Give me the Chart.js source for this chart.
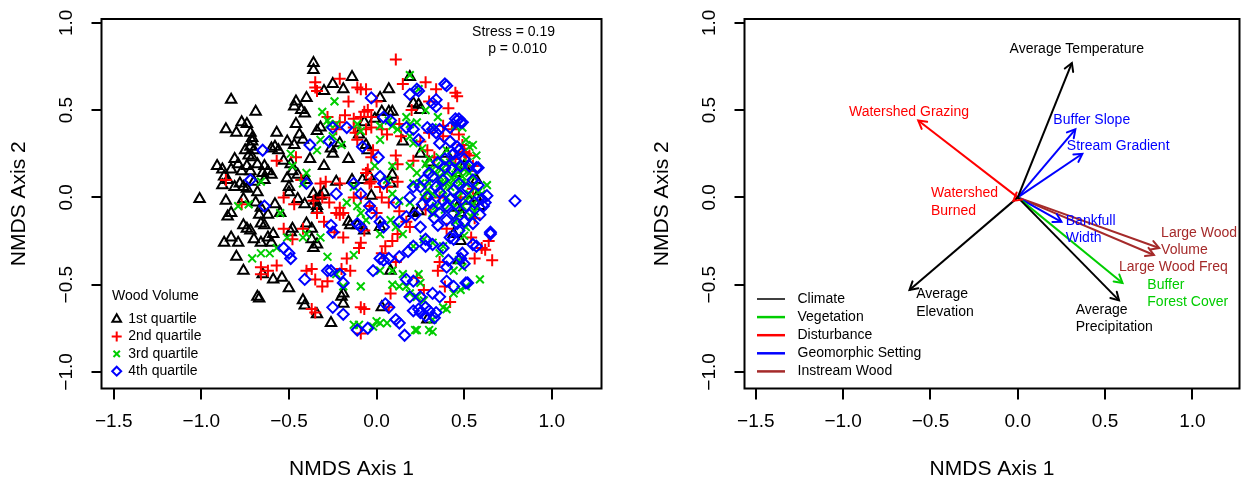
<!DOCTYPE html>
<html><head><meta charset="utf-8">
<script src="https://cdn.jsdelivr.net/npm/chart.js@4.4.1/dist/chart.umd.min.js"></script>
<style>
html,body{margin:0;padding:0;background:#fff;}
#wrap{position:relative;width:1243px;height:482px;overflow:hidden;background:#fff;}
#c1{position:absolute;left:0;top:0;}
#c2{position:absolute;left:620px;top:0;}
</style></head><body>
<div id="wrap"><canvas id="c1" width="620" height="482"></canvas><canvas id="c2" width="623" height="482"></canvas></div>
<script>
// ---------------- DATA ----------------
const xTicks = [-1.5, -1.0, -0.5, 0.0, 0.5, 1.0];
const yTicks = [-1.0, -0.5, 0.0, 0.5, 1.0];
const axisTitleX = 'NMDS Axis 1';
const axisTitleY = 'NMDS Axis 2';

const legendTitle = 'Wood Volume';
const seriesNames = ['1st quartile', '2nd quartile', '3rd quartile', '4th quartile'];
const statLines = ['Stress = 0.19', 'p = 0.010'];

// 1st quartile (black triangles)
const q1 = [[-0.36,0.77],[-0.36,0.73],[-0.14,0.69],[0.19,0.69],[-0.25,0.65],[-0.19,0.62],[-0.30,0.61],[-0.40,0.57],[-0.46,0.55],[-0.47,0.52],[-0.43,0.50],[-0.41,0.48],[-0.83,0.56],[-0.69,0.49],[0.07,0.62],[0.02,0.57],[0.24,0.53],[0.25,0.50],[0.21,0.54],[-0.77,0.43],[-0.74,0.42],[-0.72,0.37],[-0.71,0.34],[-0.86,0.39],[-0.80,0.37],[-0.46,0.42],[-0.32,0.40],[-0.34,0.38],[-0.07,0.43],[-0.01,0.45],[0.03,0.49],[0.07,0.49],[0.09,0.49],[-0.71,0.32],[-0.72,0.29],[-0.75,0.27],[-0.70,0.27],[-0.73,0.24],[-0.71,0.23],[-0.58,0.29],[-0.56,0.27],[-0.51,0.32],[-0.47,0.30],[-0.42,0.33],[-0.44,0.36],[-0.26,0.28],[-0.25,0.25],[-0.16,0.22],[-0.21,0.31],[-0.06,0.30],[-0.05,0.27],[0.15,0.32],[0.25,0.25],[-0.91,0.18],[-0.88,0.16],[-0.83,0.16],[-0.81,0.22],[-0.79,0.19],[-0.77,0.15],[-0.74,0.18],[-0.72,0.15],[-0.68,0.19],[-0.64,0.18],[-0.62,0.15],[-0.65,0.14],[-0.87,0.12],[-0.85,0.10],[-0.81,0.06],[-0.78,0.08],[-0.76,0.06],[-0.74,0.05],[-0.70,0.09],[-0.64,0.10],[-0.60,0.13],[-0.49,0.19],[-0.48,0.15],[-0.51,0.11],[-0.50,0.06],[-0.50,0.03],[-0.45,0.13],[-0.40,0.10],[-0.36,0.02],[-0.32,0.01],[-0.30,0.03],[-0.23,0.09],[-0.14,0.10],[-0.08,0.10],[-0.04,0.12],[0.08,0.08],[0.09,0.13],[-0.03,0.01],[0.57,0.10],[0.46,0.14],[-1.01,-0.01],[-0.86,-0.02],[-0.76,-0.01],[-0.69,-0.03],[-0.66,-0.06],[-0.58,-0.04],[-0.55,-0.09],[-0.83,-0.09],[-0.85,-0.11],[-0.45,-0.01],[-0.41,-0.04],[-0.35,-0.02],[-0.34,-0.05],[-0.34,-0.07],[-0.37,-0.18],[-0.40,-0.15],[-0.16,-0.14],[-0.15,-0.16],[-0.11,-0.16],[-0.07,-0.19],[0.02,-0.17],[0.21,-0.09],[0.24,-0.08],[0.44,-0.21],[0.57,0.00],[0.53,-0.02],[0.59,-0.05],[0.46,-0.06],[0.48,-0.09],[-0.76,-0.16],[-0.74,-0.18],[-0.72,-0.19],[-0.66,-0.15],[-0.64,-0.16],[-0.67,-0.10],[-0.62,-0.10],[-0.87,-0.26],[-0.83,-0.23],[-0.79,-0.26],[-0.70,-0.24],[-0.66,-0.26],[-0.62,-0.23],[-0.60,-0.26],[-0.59,-0.21],[-0.49,-0.20],[-0.48,-0.18],[-0.37,-0.24],[-0.34,-0.27],[-0.36,-0.29],[-0.80,-0.34],[-0.76,-0.42],[-0.65,-0.44],[-0.59,-0.47],[-0.54,-0.46],[-0.50,-0.52],[-0.68,-0.57],[-0.67,-0.58],[-0.42,-0.59],[-0.41,-0.62],[-0.34,-0.67],[-0.26,-0.72],[-0.20,-0.57],[-0.19,-0.55],[-0.19,-0.61],[0.03,-0.63],[0.08,-0.42],[0.29,-0.70],[0.47,-0.36],[0.48,-0.25],[-0.57,0.37],[-0.60,0.28],[-0.53,0.21],[-0.38,0.22],[-0.30,0.18],[-0.10,0.36],[0.30,0.20],[0.40,0.25],[0.50,0.18],[-0.88,0.07],[-0.68,0.03]];

// 2nd quartile (red plus)
const q2 = [[0.11,0.79],[-0.35,0.66],[-0.35,0.63],[-0.34,0.61],[-0.21,0.68],[-0.11,0.63],[-0.09,0.62],[-0.06,0.62],[0.15,0.65],[0.28,0.66],[0.34,0.62],[0.45,0.60],[0.46,0.58],[0.41,0.51],[-0.07,0.49],[-0.13,0.45],[-0.09,0.46],[-0.28,0.46],[-0.21,0.43],[-0.23,0.39],[-0.13,0.40],[-0.12,0.37],[-0.06,0.39],[-0.03,0.40],[0.03,0.39],[0.06,0.36],[0.13,0.42],[0.14,0.35],[0.11,0.24],[0.12,0.19],[0.25,0.32],[0.29,0.27],[0.38,0.41],[0.43,0.39],[0.47,0.36],[0.49,0.30],[0.53,0.24],[0.48,0.00],[0.38,0.35],[-0.57,0.21],[-0.46,0.23],[-0.32,0.08],[-0.21,0.08],[-0.13,0.00],[-0.09,0.00],[-0.06,0.14],[-0.04,0.08],[0.02,0.06],[0.06,0.06],[0.12,0.09],[-0.86,0.10],[-0.77,-0.04],[-0.53,0.00],[-0.47,-0.04],[-0.36,-0.02],[-0.34,-0.09],[-0.27,-0.03],[-0.21,-0.06],[-0.19,-0.09],[-0.23,-0.09],[-0.04,-0.05],[0.00,-0.09],[0.07,-0.03],[0.13,-0.08],[0.17,-0.14],[0.28,-0.01],[0.28,-0.07],[-0.53,-0.18],[-0.48,-0.24],[-0.42,-0.18],[-0.30,-0.14],[-0.24,-0.20],[-0.19,-0.23],[-0.10,-0.29],[-0.07,-0.19],[0.03,-0.32],[0.09,-0.25],[0.19,-0.17],[0.36,-0.37],[0.54,-0.23],[0.60,-0.29],[0.66,-0.36],[0.56,-0.35],[-0.66,-0.40],[-0.66,-0.44],[-0.62,-0.42],[-0.57,-0.39],[-0.40,-0.42],[-0.37,-0.41],[-0.35,-0.47],[-0.28,-0.48],[-0.31,-0.51],[-0.17,-0.35],[-0.15,-0.42],[-0.20,-0.41],[-0.09,-0.26],[0.08,-0.55],[0.23,-0.46],[0.27,-0.53],[0.35,-0.42],[0.39,-0.51],[0.42,-0.60],[-0.37,-0.64],[-0.35,-0.66],[-0.09,-0.63],[-0.07,-0.64],[0.07,-0.63],[-0.09,-0.78],[0.11,-0.37],[-0.02,0.27],[0.21,0.21],[-0.21,-0.10],[-0.29,0.09],[-0.43,0.10],[-0.31,0.00],[0.30,0.37],[0.36,0.00],[0.51,0.25],[0.55,0.18],[0.12,-0.21],[0.05,-0.28],[0.03,0.00],[-0.03,0.09],[-0.05,0.16],[-0.03,0.23],[-0.11,0.33],[-0.05,0.50],[-0.03,0.46],[0.45,0.22],[0.50,0.26],[0.41,0.20],[0.33,0.23],[0.55,0.05],[0.56,-0.12],[0.62,-0.30],[0.64,-0.25],[0.40,-0.18],[0.20,0.50],[0.30,0.55],[-0.16,0.55],[-0.18,0.47],[0.00,0.55]];

// 3rd quartile (green x)
const q3 = [[-0.24,0.55],[-0.31,0.49],[0.19,0.70],[0.24,0.62],[-0.28,0.44],[-0.27,0.42],[-0.23,0.42],[-0.32,0.33],[-0.34,0.27],[-0.25,0.35],[-0.11,0.42],[-0.09,0.38],[0.02,0.33],[0.02,0.41],[0.07,0.44],[0.09,0.41],[0.12,0.39],[0.19,0.42],[0.23,0.43],[0.19,0.35],[0.21,0.31],[0.32,0.40],[0.49,0.40],[0.51,0.33],[0.45,0.41],[0.28,0.19],[0.30,0.16],[0.34,0.18],[0.36,0.12],[0.40,0.14],[0.44,0.10],[0.46,0.18],[0.49,0.12],[0.51,0.08],[0.53,0.14],[0.56,0.06],[0.60,0.02],[0.63,0.07],[0.56,-0.08],[0.54,-0.11],[0.51,-0.17],[0.40,0.00],[0.38,0.04],[0.32,0.02],[0.34,-0.05],[0.32,-0.09],[0.25,0.08],[0.21,0.08],[0.19,0.18],[-0.49,0.25],[-0.48,0.18],[-0.40,0.14],[-0.42,0.08],[-0.66,0.09],[-0.79,-0.05],[-0.73,-0.04],[-0.55,-0.09],[-0.71,-0.35],[-0.66,-0.32],[-0.61,-0.32],[-0.57,-0.29],[-0.51,-0.23],[-0.42,-0.23],[-0.40,-0.21],[-0.32,-0.23],[-0.28,-0.34],[-0.23,-0.44],[-0.19,-0.51],[-0.09,-0.51],[-0.13,-0.33],[-0.09,-0.09],[-0.06,-0.13],[0.02,-0.21],[0.08,-0.13],[0.11,-0.17],[0.15,-0.21],[0.21,-0.28],[0.27,-0.24],[0.32,-0.26],[0.36,-0.32],[0.38,-0.28],[0.44,-0.42],[0.47,-0.36],[0.49,-0.40],[0.59,-0.47],[0.51,-0.51],[0.44,-0.55],[0.38,-0.63],[0.32,-0.70],[0.22,-0.76],[0.30,-0.76],[0.06,-0.72],[0.02,-0.72],[-0.02,-0.74],[-0.13,-0.73],[0.09,-0.50],[0.13,-0.51],[0.17,-0.51],[0.19,-0.55],[0.25,-0.49],[0.24,-0.44],[0.09,-0.42],[0.15,-0.44],[0.23,-0.57],[0.27,-0.59],[0.02,-0.42],[-0.17,-0.03],[-0.11,-0.05],[-0.13,0.06],[0.06,0.10],[0.09,0.02],[0.13,-0.02],[0.19,-0.03],[0.27,0.00],[0.30,0.08],[0.29,0.04],[0.23,0.14],[0.09,0.18],[0.42,0.06],[0.47,0.04],[0.46,0.00],[0.43,-0.03],[0.49,-0.05],[0.53,0.02],[0.36,0.23],[0.40,0.27],[0.53,0.29],[-0.10,-0.73],[0.00,-0.71],[0.23,-0.76],[0.32,-0.77],[0.40,-0.64],[0.48,-0.53],[0.50,-0.22],[0.45,-0.14],[0.38,0.08],[0.42,0.20],[0.57,0.24],[-0.01,0.18],[-0.20,0.30],[0.33,0.14],[0.37,0.16],[0.41,0.09],[0.45,0.13],[0.48,0.08],[0.50,0.16],[0.52,0.20],[0.55,0.12],[0.58,0.03],[0.39,-0.07],[0.44,-0.06],[0.51,-0.02],[0.36,0.08],[0.40,0.19],[0.47,-0.10],[0.55,-0.04],[0.30,0.22],[0.26,0.28],[0.55,0.30],[0.35,0.46],[0.28,0.50],[0.17,0.46]];

// 4th quartile (blue diamonds)
const q4 = [[0.39,0.65],[0.19,0.59],[0.23,0.62],[0.32,0.54],[0.34,0.52],[-0.03,0.57],[0.08,0.44],[-0.25,0.40],[-0.17,0.40],[-0.38,0.30],[-0.08,0.29],[0.01,0.23],[0.17,0.40],[0.21,0.39],[0.24,0.33],[0.29,0.40],[0.32,0.39],[0.34,0.37],[0.36,0.39],[0.42,0.40],[0.45,0.45],[0.46,0.44],[0.48,0.43],[0.36,0.31],[0.42,0.32],[0.46,0.29],[0.53,0.18],[0.57,0.17],[0.47,0.27],[-0.65,0.27],[-0.72,0.10],[-0.64,-0.05],[-0.40,0.08],[-0.23,0.02],[-0.13,0.08],[-0.09,0.02],[-0.04,-0.05],[-0.03,-0.09],[0.02,0.12],[0.04,0.08],[0.11,-0.03],[0.19,0.00],[0.21,0.06],[0.25,0.06],[0.27,0.10],[0.30,0.14],[0.32,0.12],[0.34,0.06],[0.29,0.00],[0.38,-0.02],[0.40,-0.05],[0.32,-0.07],[0.36,-0.09],[0.40,-0.13],[0.44,-0.09],[0.46,-0.15],[0.50,-0.14],[0.53,-0.10],[0.56,-0.03],[0.60,-0.01],[0.61,-0.05],[0.51,-0.05],[0.65,-0.20],[0.79,-0.02],[0.55,-0.27],[0.49,-0.32],[0.48,-0.35],[-0.26,-0.16],[-0.25,-0.20],[-0.11,-0.15],[-0.09,-0.17],[0.02,-0.14],[0.04,-0.17],[0.13,-0.14],[0.17,-0.11],[0.22,-0.10],[0.25,-0.17],[0.28,-0.24],[0.28,-0.28],[0.32,-0.27],[0.38,-0.29],[0.42,-0.23],[0.44,-0.24],[0.41,-0.36],[0.40,-0.40],[0.50,-0.38],[-0.53,-0.29],[-0.50,-0.32],[-0.49,-0.35],[-0.41,-0.47],[-0.28,-0.42],[-0.26,-0.42],[-0.21,-0.44],[-0.19,-0.49],[-0.02,-0.42],[0.02,-0.35],[0.04,-0.36],[0.07,-0.35],[0.13,-0.34],[0.18,-0.31],[0.21,-0.28],[0.17,-0.47],[0.21,-0.48],[0.25,-0.57],[0.28,-0.63],[0.32,-0.55],[0.36,-0.57],[0.40,-0.48],[0.44,-0.51],[0.51,-0.49],[-0.25,-0.63],[-0.19,-0.67],[-0.11,-0.76],[-0.05,-0.75],[0.05,-0.61],[0.07,-0.63],[0.11,-0.70],[0.19,-0.57],[0.21,-0.65],[0.24,-0.64],[0.25,-0.66],[0.28,-0.68],[0.30,-0.65],[0.33,-0.69],[0.34,-0.66],[0.16,-0.79],[0.13,-0.72],[0.40,0.64],[0.24,0.61],[0.34,0.56],[0.47,0.45],[0.49,0.43],[0.58,0.17],[0.63,0.01],[0.62,-0.03],[0.65,-0.21],[0.57,-0.28],[0.52,-0.49],[-0.27,0.32],[0.38,0.10],[0.44,0.04],[0.47,0.08],[0.35,-0.16],[0.52,0.05],[0.35,0.20],[0.39,0.22],[0.43,0.16],[0.45,0.21],[0.48,0.18],[0.50,0.22],[0.55,0.10],[0.58,0.07],[0.42,-0.01],[0.45,-0.04],[0.48,0.01],[0.36,0.03],[0.31,-0.03],[0.26,-0.04],[0.33,-0.12],[0.47,-0.19],[0.55,-0.15],[0.59,-0.10],[0.39,0.17],[0.44,0.25],[0.04,0.46]];

// Right panel: environmental vectors
const vectorNames = ['Average Temperature','Average\nElevation','Average\nPrecipitation','Buffer\nForest Cover','Watershed Grazing','Watershed\nBurned','Buffer Slope','Stream Gradient','Bankfull\nWidth','Large Wood\nVolume','Large Wood Freq'];
const vectorGroup = ['Climate','Climate','Climate','Vegetation','Disturbance','Disturbance','Geomorphic Setting','Geomorphic Setting','Geomorphic Setting','Instream Wood','Instream Wood'];
const vectorX = [0.31,-0.62,0.58,0.60,-0.57,-0.025,0.33,0.37,0.25,0.81,0.78];
const vectorY = [0.77,-0.53,-0.59,-0.49,0.44,-0.02,0.39,0.25,-0.14,-0.29,-0.33];
const groupNames = ['Climate','Vegetation','Disturbance','Geomorphic Setting','Instream Wood'];

// label anchors (axis units) and alignment
const labelX = [0.338,-0.582,0.332,0.742,-0.623,-0.497,0.204,0.281,0.275,0.821,0.580];
const labelY = [0.848,-0.556,-0.646,-0.503,0.491,0.023,0.443,0.296,-0.134,-0.206,-0.401];
const labelAlign = ['center','left','left','left','center','left','left','left','left','left','left'];
const statX = [0.782, 0.805];
const statY = [0.947, 0.850];

// ---------------- STYLE ----------------
const FONT = '"Liberation Sans", Arial, Helvetica, sans-serif';
const seriesColors = ['#000000','#FF0000','#00CD00','#0000FF'];
const seriesStyles = ['triangle','cross','crossRot','rectRot'];
const seriesRadius = [6, 6, 5.5, 5.5];
const groupColors = {'Climate':'#000000','Vegetation':'#00CD00','Disturbance':'#FF0000','Geomorphic Setting':'#0000FF','Instream Wood':'#A52A2A'};

const fmt = v => (v < 0 ? '\u2212' : '') + Math.abs(v).toFixed(1);

function makeScales(xmin, xmax, ymin, ymax) {
  return {
    x: {
      type: 'linear', min: xmin, max: xmax,
      afterBuildTicks: s => { s.ticks = xTicks.map(v => ({value: v})); },
      afterFit: s => { s.height = 93.5; },
      grid: {drawOnChartArea: false, drawTicks: true, tickLength: 11, color: '#000', lineWidth: 2},
      border: {display: false},
      ticks: {font: {family: FONT, size: 19}, color: '#000', padding: 11, maxRotation: 0, minRotation: 0, autoSkip: false, callback: v => fmt(v)},
      title: {display: true, text: axisTitleX, font: {family: FONT, size: 21}, color: '#000', padding: {top: 0, bottom: 0}}
    },
    y: {
      type: 'linear', min: ymin, max: ymax,
      afterBuildTicks: s => { s.ticks = yTicks.map(v => ({value: v})); },
      afterFit: s => { s.width = 101.5; },
      grid: {drawOnChartArea: false, drawTicks: true, tickLength: 10, color: '#000', lineWidth: 2},
      border: {display: false},
      ticks: {display: false},
      title: {display: true, text: axisTitleY, font: {family: FONT, size: 21}, color: '#000', padding: {top: 6.4, bottom: 0}}
    }
  };
}

const framePlugin = {
  id: 'frame',
  afterDraw(chart) {
    const {ctx, chartArea: a} = chart;
    const y = chart.scales.y;
    ctx.save();
    ctx.strokeStyle = '#000';
    ctx.lineWidth = 2;
    ctx.strokeRect(a.left, a.top, a.right - a.left, a.bottom - a.top);
    ctx.fillStyle = '#000';
    ctx.font = '19px ' + FONT;
    ctx.textAlign = 'center';
    ctx.textBaseline = 'middle';
    y.ticks.forEach(t => {
      ctx.save();
      ctx.translate(a.left - 35, y.getPixelForValue(t.value));
      ctx.rotate(-Math.PI / 2);
      ctx.fillText(fmt(t.value), 0, 0);
      ctx.restore();
    });
    ctx.restore();
  }
};

const leftExtras = {
  id: 'leftExtras',
  afterDraw(chart) {
    const {ctx, chartArea: a} = chart;
    const {x, y} = chart.scales;
    ctx.save();
    ctx.font = '14px ' + FONT;
    ctx.fillStyle = '#000';
    ctx.textBaseline = 'middle';
    ctx.textAlign = 'center';
    statLines.forEach((s, i) => ctx.fillText(s, x.getPixelForValue(statX[i]), y.getPixelForValue(statY[i])));
    ctx.textAlign = 'left';
    ctx.fillText(legendTitle, a.left + 10.5, 296);
    seriesNames.forEach((n, i) => {
      const yy = 319.3 + i * 17.3;
      ctx.fillStyle = 'rgba(0,0,0,0)';
      ctx.strokeStyle = seriesColors[i];
      ctx.lineWidth = 2;
      Chart.helpers.drawPoint(ctx, {pointStyle: seriesStyles[i], radius: seriesRadius[i] - 1, borderWidth: 2, rotation: 0}, a.left + 15.2, yy);
      ctx.fillStyle = '#000';
      ctx.fillText(n, a.left + 26.8, yy);
    });
    ctx.restore();
  }
};

const arrowPlugin = {
  id: 'arrows',
  afterDatasetsDraw(chart) {
    const ctx = chart.ctx;
    ctx.save();
    chart.data.datasets.forEach((ds, i) => {
      const m = chart.getDatasetMeta(i);
      const p0 = m.data[0], p1 = m.data[1];
      const ang = Math.atan2(p1.y - p0.y, p1.x - p0.x);
      const L = 9, A = Math.PI / 6;
      ctx.beginPath();
      ctx.moveTo(p1.x - L * Math.cos(ang - A), p1.y - L * Math.sin(ang - A));
      ctx.lineTo(p1.x, p1.y);
      ctx.lineTo(p1.x - L * Math.cos(ang + A), p1.y - L * Math.sin(ang + A));
      ctx.strokeStyle = ds.borderColor;
      ctx.lineWidth = 2;
      ctx.lineCap = 'round';
      ctx.stroke();
    });
    ctx.restore();
  },
  afterDraw(chart) {
    const {ctx, chartArea: a} = chart;
    const {x, y} = chart.scales;
    ctx.save();
    ctx.font = '14px ' + FONT;
    ctx.textBaseline = 'middle';
    vectorNames.forEach((name, i) => {
      ctx.fillStyle = groupColors[vectorGroup[i]];
      ctx.textAlign = labelAlign[i];
      const px = x.getPixelForValue(labelX[i]);
      const py = y.getPixelForValue(labelY[i]);
      name.split('\n').forEach((line, k) => ctx.fillText(line, px, py + k * 17.3));
    });
    // legend
    ctx.textAlign = 'left';
    groupNames.forEach((g, i) => {
      const yy = 299 + i * 18.1;
      ctx.beginPath();
      ctx.moveTo(a.left + 12.5, yy);
      ctx.lineTo(a.left + 40.5, yy);
      ctx.strokeStyle = groupColors[g];
      ctx.lineWidth = i === 0 ? 1.5 : 2.5;
      ctx.stroke();
      ctx.fillStyle = '#000';
      ctx.fillText(g, a.left + 53, yy);
    });
    ctx.restore();
  }
};

const common = {
  responsive: false,
  maintainAspectRatio: false,
  animation: false,
  devicePixelRatio: 1,
  events: [],
  plugins: {legend: {display: false}, tooltip: {enabled: false}, title: {display: false}}
};

// Left chart
new Chart(document.getElementById('c1'), {
  type: 'scatter',
  data: {
    datasets: [q1, q2, q3, q4].map((arr, i) => ({
      label: seriesNames[i],
      data: arr.map(p => ({x: p[0], y: p[1]})),
      pointStyle: seriesStyles[i],
      pointRadius: seriesRadius[i],
      pointBorderWidth: 2,
      borderColor: seriesColors[i],
      backgroundColor: 'rgba(0,0,0,0)',
      order: 4 - i
    }))
  },
  options: Object.assign({}, common, {
    layout: {padding: {left: 0, top: 19, right: 18.5, bottom: 0}},
    scales: makeScales(-1.570, 1.284, -1.095, 1.022)
  }),
  plugins: [framePlugin, leftExtras]
});

// Right chart
new Chart(document.getElementById('c2'), {
  type: 'scatter',
  data: {
    datasets: vectorNames.map((n, i) => ({
      label: n.replace('\n', ' '),
      data: [{x: 0, y: 0}, {x: vectorX[i], y: vectorY[i]}],
      showLine: true,
      borderColor: groupColors[vectorGroup[i]],
      borderWidth: 2,
      pointRadius: 0,
      backgroundColor: groupColors[vectorGroup[i]]
    }))
  },
  options: Object.assign({}, common, {
    layout: {padding: {left: 23, top: 19, right: 3.5, bottom: 0}},
    scales: makeScales(-1.565, 1.270, -1.095, 1.022)
  }),
  plugins: [framePlugin, arrowPlugin]
});
</script>
</body></html>
